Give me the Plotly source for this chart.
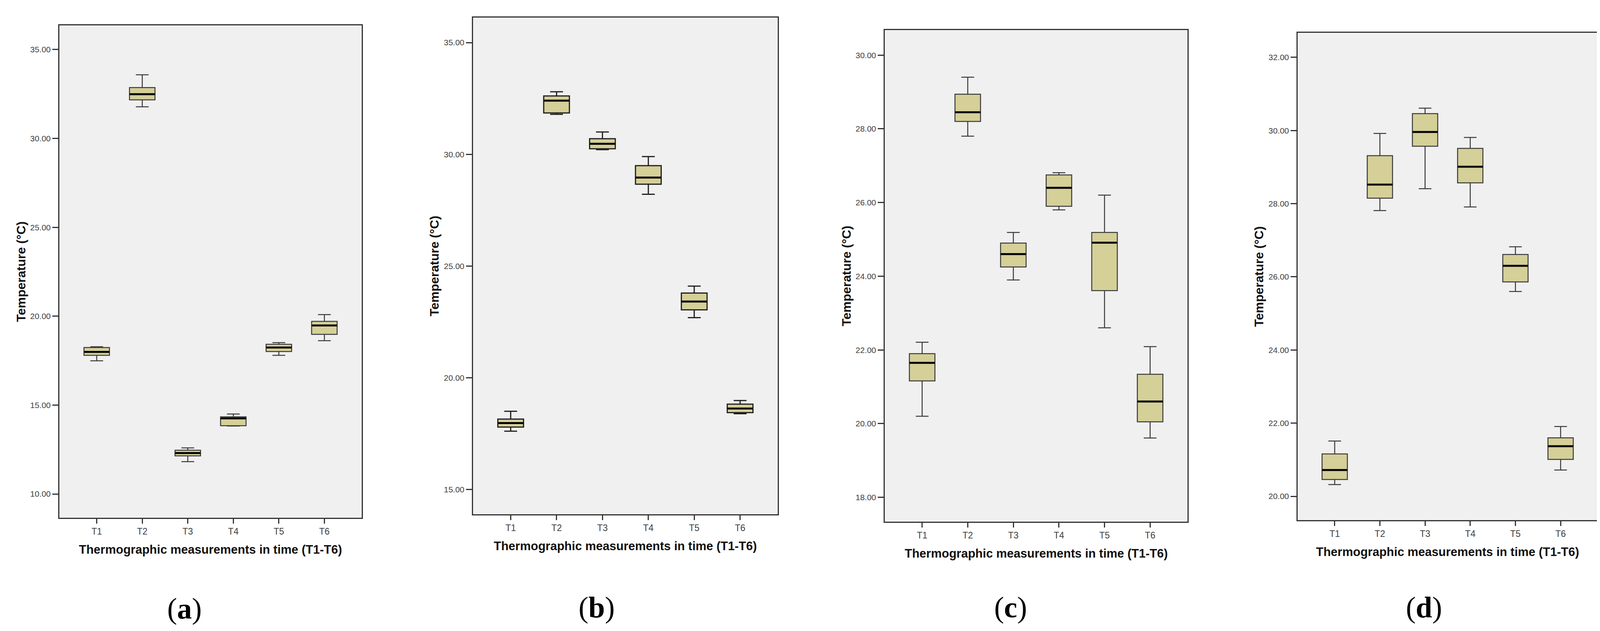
import plotly.graph_objects as go

W, H = 4114, 1616

cats = ["T1", "T2", "T3", "T4", "T5", "T6"]

# panel (a)
a_low = [17.49, 31.78, 11.82, 13.82, 17.80, 18.62]
a_q1 = [17.80, 32.17, 12.14, 13.84, 18.01, 18.98]
a_med = [17.99, 32.49, 12.30, 14.25, 18.24, 19.48]
a_q3 = [18.24, 32.86, 12.46, 14.34, 18.42, 19.71]
a_high = [18.28, 33.58, 12.59, 14.50, 18.51, 20.09]

# panel (b)
b_low = [17.61, 31.79, 30.21, 28.21, 22.69, 18.39]
b_q1 = [17.79, 31.85, 30.25, 28.66, 23.04, 18.44]
b_med = [17.97, 32.40, 30.47, 28.96, 23.41, 18.62]
b_q3 = [18.15, 32.61, 30.70, 29.49, 23.79, 18.82]
b_high = [18.50, 32.80, 31.00, 29.90, 24.10, 18.98]

# panel (c)
c_low = [20.20, 27.80, 23.90, 25.80, 22.60, 19.61]
c_q1 = [21.16, 28.20, 24.25, 25.90, 23.61, 20.05]
c_med = [21.65, 28.45, 24.60, 26.40, 24.91, 20.60]
c_q3 = [21.90, 28.94, 24.90, 26.75, 25.19, 21.34]
c_high = [22.21, 29.40, 25.19, 26.81, 26.20, 22.09]

# panel (d)
d_low = [20.32, 27.81, 28.41, 27.91, 25.60, 20.72]
d_q1 = [20.46, 28.15, 29.57, 28.57, 25.86, 21.01]
d_med = [20.72, 28.52, 29.96, 29.01, 26.30, 21.37]
d_q3 = [21.16, 29.31, 30.46, 29.51, 26.61, 21.60]
d_high = [21.51, 29.92, 30.61, 29.81, 26.82, 21.91]

panels = [
    (a_low, a_q1, a_med, a_q3, a_high),
    (b_low, b_q1, b_med, b_q3, b_high),
    (c_low, c_q1, c_med, c_q3, c_high),
    (d_low, d_q1, d_med, d_q3, d_high),
]
labels = ["a", "b", "c", "d"]
y_ranges = [[8.66, 36.36], [13.89, 36.12], [17.34, 30.68], [19.35, 32.67]]
y_dtick = [5, 5, 2, 2]

# plot boxes in pixels: left, top, right, bottom
boxes_px = [(144, 57, 918, 1318), (1203, 37, 1983, 1309),
            (2257, 69, 3032, 1328), (3314, 76, 4082, 1324)]
label_px = [(464, 1550), (1519, 1547), (2579, 1547), (3637, 1547)]

fill = "#D5CF98"
edge = ["#3a3a3a", "#1e1e1e", "#3a3a3a", "#3a3a3a"]
edge_w = [2.5, 3, 2.5, 2.5]

sans = "Liberation Sans, Arial, sans-serif"
narrow = "Liberation Sans Narrow, Arial Narrow, Liberation Sans, Arial, sans-serif"

fig = go.Figure()
annotations = []

for i, (low, q1, med, q3, high) in enumerate(panels):
    n = "" if i == 0 else str(i + 1)
    fig.add_trace(go.Box(
        x=cats, q1=q1, median=med, q3=q3, lowerfence=low, upperfence=high,
        fillcolor=fill, line=dict(color=edge[i], width=edge_w[i]),
        whiskerwidth=0.5, boxpoints=False, showlegend=False,
        xaxis="x" + n, yaxis="y" + n, hoverinfo="skip",
    ))
    # thick black median line drawn on top
    fig.add_trace(go.Box(
        x=cats, q1=med, median=med, q3=med, lowerfence=med, upperfence=med,
        fillcolor="rgba(0,0,0,0)", line=dict(color="#000000", width=5),
        whiskerwidth=0, boxpoints=False, showlegend=False,
        xaxis="x" + n, yaxis="y" + n, hoverinfo="skip",
    ))

    l, t, r, b = boxes_px[i]
    fig.update_layout(**{
        "xaxis" + n: dict(
            domain=[l / W, r / W], anchor="y" + n,
            type="category", categoryorder="array", categoryarray=cats,
            range=[-0.82, 5.82],
            showline=True, mirror=True, linecolor="#333333", linewidth=3,
            ticks="outside", ticklen=12, tickwidth=3, tickcolor="#333333",
            showgrid=False, zeroline=False,
            tickfont=dict(family=narrow, size=23, color="#404040"),
        ),
        "yaxis" + n: dict(
            domain=[1 - b / H, 1 - t / H], anchor="x" + n,
            range=y_ranges[i], tick0=0, dtick=y_dtick[i], tickformat=".2f",
            showline=True, mirror=True, linecolor="#333333", linewidth=3,
            ticks="outside", ticklen=15, tickwidth=3, tickcolor="#333333",
            showgrid=False, zeroline=False,
            tickfont=dict(family=sans, size=21, color="#404040"),
        ),
    })

    annotations.append(dict(
        text="<b>Temperature (°C)</b>", textangle=-90, showarrow=False,
        xref="paper", yref="paper", x=(l - 99) / W, y=1 - (t + b) / 2 / H,
        xanchor="center", yanchor="middle",
        font=dict(family=sans, size=32, color="#111111"),
    ))
    annotations.append(dict(
        text="<b>Thermographic measurements in time (T1-T6)</b>", showarrow=False,
        xref="paper", yref="paper", x=(l + r) / 2 / W, y=1 - (b + 81) / H,
        xanchor="center", yanchor="middle",
        font=dict(family=sans, size=31, color="#111111"),
    ))
    lx, ly = label_px[i]
    annotations.append(dict(
        text="(<b>" + labels[i] + "</b>)", showarrow=False,
        xref="paper", yref="paper", x=lx / W, y=1 - ly / H,
        xanchor="center", yanchor="middle",
        font=dict(family="Liberation Serif, Times New Roman, serif", size=76, color="#000000"),
    ))

fig.update_layout(
    width=W, height=H,
    margin=dict(l=0, r=0, t=0, b=0),
    paper_bgcolor="white",
    plot_bgcolor="#F0F0F0",
    boxmode="overlay",
    boxgap=0.2,
    annotations=annotations,
)

fig.write_html("out.html")
